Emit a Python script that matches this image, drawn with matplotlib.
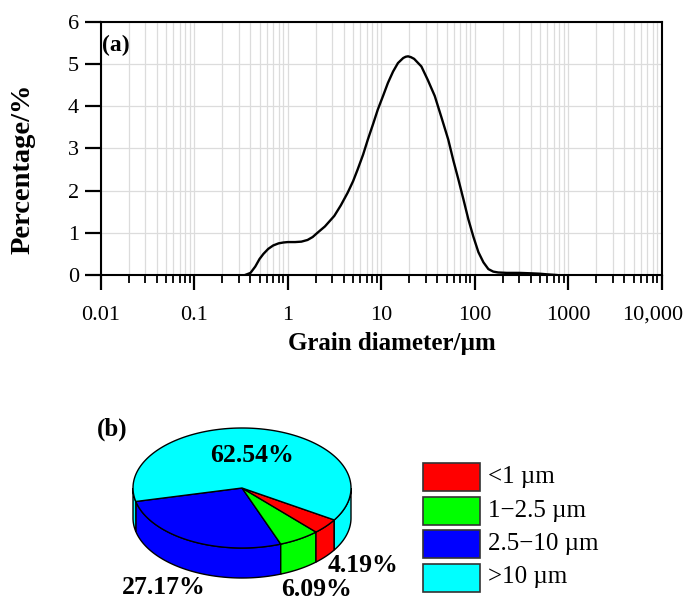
import numpy as np
import matplotlib
matplotlib.use("Agg")
import matplotlib.pyplot as plt
from matplotlib.patches import Polygon, Rectangle
from matplotlib.ticker import FixedLocator, FixedFormatter, LogLocator, NullFormatter
from matplotlib.transforms import ScaledTranslation

plt.rcParams['font.family'] = ['Liberation Serif', 'DejaVu Serif']

# ---------------- data ----------------
diameter = [0.35, 0.40, 0.45, 0.50, 0.55, 0.62, 0.70, 0.80, 0.90, 1.0, 1.2, 1.4,
            1.63, 1.85, 2.08, 2.5, 3.15, 3.7, 4.38, 5.0, 5.6, 6.4, 7.2, 8.2, 9.2,
            10.5, 11.8, 13.4, 15.1, 17.2, 18.3, 19.4, 20.8, 22.5, 26.9, 31.5, 37.4,
            44, 52.1, 59, 66.8, 76, 85.5, 97, 109.6, 124, 140, 158, 178, 220, 300,
            400, 500, 600, 750]
percentage = [0.0, 0.05, 0.2, 0.38, 0.5, 0.62, 0.7, 0.75, 0.77, 0.78, 0.78, 0.79,
              0.83, 0.9, 1.0, 1.15, 1.40, 1.65, 1.95, 2.22, 2.5, 2.85, 3.21, 3.58,
              3.92, 4.25, 4.55, 4.82, 5.02, 5.14, 5.17, 5.18, 5.16, 5.12, 4.94, 4.62,
              4.24, 3.74, 3.21, 2.72, 2.27, 1.78, 1.32, 0.9, 0.54, 0.3, 0.14, 0.08,
              0.06, 0.05, 0.05, 0.04, 0.03, 0.015, 0.0]
xtick_values = [0.01, 0.1, 1, 10, 100, 1000, 10000]
xtick_labels = ['0.01', '0.1', '1', '10', '100', '1000', '10,000']
ytick_values = [0, 1, 2, 3, 4, 5, 6]

categories = ['<1 \u00b5m', '1\u22122.5 \u00b5m', '2.5\u221210 \u00b5m', '>10 \u00b5m']
fractions = [4.19, 6.09, 27.17, 62.54]
colors = ['#FF0000', '#00FF00', '#0000FF', '#00FFFF']

# ---------------- figure ----------------
W, H = 689, 599
fig = plt.figure(figsize=(W / 100, H / 100), dpi=100)

# top panel (a)
ax1 = fig.add_axes([100.7 / W, 1 - 275 / H, 561 / W, 253.3 / H])
ax1.set_xscale('log')
ax1.set_axisbelow(True)
ax1.plot(diameter, percentage, color='black', lw=1.7, zorder=3)
ax1.set_xlim(0.01, 10000)
ax1.set_ylim(0, 6)
ax1.xaxis.set_major_locator(FixedLocator(xtick_values))
ax1.xaxis.set_major_formatter(FixedFormatter(xtick_labels))
ax1.xaxis.set_minor_locator(LogLocator(base=10, subs=np.arange(2, 10), numticks=20))
ax1.xaxis.set_minor_formatter(NullFormatter())
ax1.yaxis.set_major_locator(FixedLocator(ytick_values))
ax1.grid(which='both', axis='x', color='#dcdcdc', lw=0.9)
ax1.grid(which='major', axis='y', color='#dcdcdc', lw=0.9)
for s in ax1.spines.values():
    s.set_linewidth(1.5)
ax1.tick_params(axis='x', which='major', direction='out', length=11, width=1.6,
                labelsize=16, pad=11)
ax1.tick_params(axis='x', which='minor', direction='out', length=6, width=1.3)
ax1.tick_params(axis='y', which='major', direction='out', length=11.5, width=1.6,
                labelsize=16, pad=4)
ax1.set_xlabel('Grain diameter/\u00b5m', fontsize=18, fontweight='bold')
ax1.xaxis.set_label_coords(0.519, -0.225)
ax1.set_ylabel('Percentage/%', fontsize=20.5, fontweight='bold')
ax1.yaxis.set_label_coords(-0.116, 0.42)

fig.canvas.draw()
last = ax1.xaxis.get_major_ticks()[-1].label1
last.set_transform(last.get_transform() + ScaledTranslation(-0.09, 0, fig.dpi_scale_trans))

# overlay in pixel coordinates for pie, legend, panel labels
ax2 = fig.add_axes([0, 0, 1, 1])
ax2.set_xlim(0, W)
ax2.set_ylim(H, 0)
ax2.axis('off')
ax2.patch.set_visible(False)

ax2.text(116, 45, '(a)', fontsize=17, fontweight='bold', ha='center', va='center')
ax2.text(112, 429, '(b)', fontsize=18, fontweight='bold', ha='center', va='center')

# 3D-looking pie
cx, cy, a, b, depth = 242, 488, 109, 60, 30
start_angle = 193.0
draw_order = [2, 1, 0, 3]


def ell(t):
    return cx + a * np.cos(t), cy - b * np.sin(t)


total = sum(fractions)
ang = start_angle
for i in draw_order:
    sweep = fractions[i] / total * 360.0
    t0, t1 = ang, ang + sweep
    for lo, hi in [(180, 360), (540, 720)]:
        s0, s1 = max(t0, lo), min(t1, hi)
        if s1 > s0:
            ts = np.radians(np.linspace(s0, s1, 80))
            xs, ys = ell(ts)
            poly = np.column_stack([np.r_[xs, xs[::-1]], np.r_[ys, ys[::-1] + depth]])
            ax2.add_patch(Polygon(poly, closed=True, fc=colors[i], ec='black',
                                  lw=1.0, zorder=2))
    ts = np.radians(np.linspace(t0, t1, 150))
    xs, ys = ell(ts)
    poly = np.column_stack([np.r_[cx, xs], np.r_[cy, ys]])
    ax2.add_patch(Polygon(poly, closed=True, fc=colors[i], ec='black', lw=1.0,
                          zorder=3))
    ang = t1

label_pos = [(363, 565), (316, 589), (164, 587), (252, 455)]
for v, (lx, ly) in zip(fractions, label_pos):
    ax2.text(lx, ly, f'{v:.2f}%', fontsize=18.5, fontweight='bold',
             ha='center', va='center', zorder=5)

# legend
for k, (lab, col) in enumerate(zip(categories, colors)):
    y0 = 463 + k * 33.5
    ax2.add_patch(Rectangle((423, y0), 57, 28, fc=col, ec='#333333', lw=1.2))
    ax2.text(488, y0 + 14, lab, fontsize=18, ha='left', va='center')

fig.savefig('out.png', dpi=100)
